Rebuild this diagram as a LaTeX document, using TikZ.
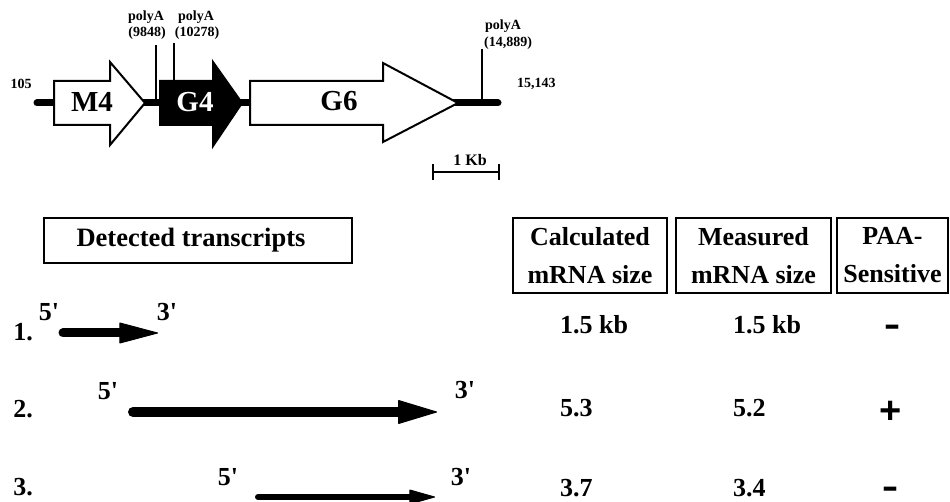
\documentclass[tikz,border=0pt]{standalone}
\usepackage{fontspec}
\usepackage{graphicx}
\setmainfont{Liberation Serif}
\newfontfamily\sansfam{Liberation Sans}
\usetikzlibrary{arrows.meta}
\tikzset{
  small/.style={font=\fontsize{14}{16}\selectfont\bfseries, inner sep=0pt},
  big/.style={font=\fontsize{26}{30}\selectfont\bfseries, inner sep=0pt},
  genelbl/.style={font=\fontsize{29}{30}\selectfont\bfseries, inner sep=0pt},
  hdr/.style={draw, line width=1.6pt, font=\fontsize{26}{38}\selectfont\bfseries, align=center, inner sep=0pt},
  gene/.style={draw, line width=2pt, line join=miter},
  backbone/.style={line width=7pt, line cap=round},
  tick/.style={line width=2.5pt},
  trA/.style={line width=9pt, line cap=round, -{Triangle[length=40pt, width=21pt, line width=1pt, round]}},
  trB/.style={line width=10pt, line cap=round, -{Triangle[length=40pt, width=24pt, line width=1pt, round]}},
  trC/.style={line width=6pt, line cap=round, -{Triangle[length=27pt, width=15pt, line width=1pt, round]}},
  plus/.style={font=\sansfam\fontsize{38}{38}\selectfont\bfseries, inner sep=0pt},
  minus/.style={font=\fontsize{26}{26}\selectfont\bfseries, inner sep=0pt, anchor=base}
}
\begin{document}
\begin{tikzpicture}[x=1pt,y=-1pt]
\useasboundingbox (0,0) rectangle (950,502);
\fill[white] (0,0) rectangle (950,502);

% ---------- gene map ----------
\coordinate (bbL) at (37,103);
\coordinate (bbR) at (498,103);
\draw[backbone] (bbL) -- (bbR);

% M4 (open arrow)
\draw[gene, fill=white] (54,81) -- (110,81) -- (110,62) -- (145,103) -- (110,145) -- (110,125) -- (54,125) -- cycle;
% G4 (filled arrow)
\draw[gene, fill=black] (160,81) -- (213,81) -- (213,62) -- (242,103) -- (213,146) -- (213,125) -- (160,125) -- cycle;
% G6 (open arrow)
\draw[gene, fill=white] (250,81) -- (383,81) -- (383,63) -- (458,103) -- (383,142) -- (383,125) -- (250,125) -- cycle;

\node[genelbl] (m4) at (92,102) {M4};
\node[genelbl, text=white] (g4) at (195,102) {G4};
\node[genelbl] (g6) at (339,101) {G6};

% polyA sites
\coordinate (p1t) at (156,45);  \coordinate (p1b) at (156,102);
\coordinate (p2t) at (174,43);  \coordinate (p2b) at (174,82);
\coordinate (p3t) at (482,49);  \coordinate (p3b) at (482,103);
\draw[tick] (p1t) -- (p1b);
\draw[tick] (p2t) -- (p2b);
\draw[tick] (p3t) -- (p3b);

\node[small] (pa1) at (146,17) {polyA};
\node[small] (pa1n) at (147,33) {(9848)};
\node[small] (pa2) at (196,17) {polyA};
\node[small] (pa2n) at (197,33) {(10278)};
\node[small, anchor=west] (pa3) at (485,26) {polyA};
\node[small, anchor=west] (pa3n) at (484,43) {(14,889)};

\node[small] (start) at (21,84) {105};
\node[small, anchor=west] (end) at (517,84) {15,143};

% scale bar
\coordinate (sbL) at (433,172);
\coordinate (sbR) at (499,172);
\draw[line width=2pt] (sbL) -- (sbR);
\draw[line width=2pt] ([yshift=-8pt]sbL) -- ([yshift=8pt]sbL);
\draw[line width=2pt] ([yshift=-8pt]sbR) -- ([yshift=8pt]sbR);
\node[small, font=\fontsize{16}{18}\selectfont\bfseries] (kb) at (470,160) {1 Kb};

% ---------- table headers ----------
\node[hdr, minimum width=308pt, minimum height=45pt] (detbox) at (198,240.5) {};
\node[big, font=\fontsize{26.5}{30}\selectfont\bfseries] (det) at (191,240) {Detected transcripts};
\node[hdr, minimum width=154pt, minimum height=75pt] (calc) at (590,255.5) {Calculated\\mRNA size};
\node[hdr, minimum width=155pt, minimum height=75pt] (meas) at (753.5,255.5) {Measured\\mRNA size};
\node[hdr, minimum width=111pt, minimum height=75pt] (paa) at (892.5,255.5) {PAA-\\Sensitive};

% ---------- transcripts ----------
% row 1
\node[big] (n1) at (23,332) {1.};
\node[big] (f1) at (49,312) {5\textquotesingle};
\node[big] (e1) at (167,312) {3\textquotesingle};
\coordinate (t1s) at (63,333);
\coordinate (t1e) at (158,333);
\draw[trA] (t1s) -- (t1e);
\node[big, anchor=west] (c1) at (560,325) {1.5 kb};
\node[big, anchor=west] (m1) at (733,325) {1.5 kb};
\node[minus] (s1) at (892,338.5) {\scalebox{1.85}{-}};

% row 2
\node[big] (n2) at (23,409) {2.};
\node[big] (f2) at (108,391) {5\textquotesingle};
\node[big] (e2) at (465,390) {3\textquotesingle};
\coordinate (t2s) at (133,412);
\coordinate (t2e) at (437,412);
\draw[trB] (t2s) -- (t2e);
\node[big, anchor=west] (c2) at (560,408) {5.3};
\node[big, anchor=west] (m2) at (733,408) {5.2};
\node[plus] (s2) at (891,412) {+};

% row 3
\node[big] (n3) at (23,487) {3.};
\node[big] (f3) at (228,477) {5\textquotesingle};
\node[big] (e3) at (461,477) {3\textquotesingle};
\coordinate (t3s) at (258,497);
\coordinate (t3e) at (435,497);
\draw[trC] (t3s) -- (t3e);
\node[big, anchor=west] (c3) at (560,488) {3.7};
\node[big, anchor=west] (m3) at (733,488) {3.4};
\node[minus] (s3) at (890,500.5) {\scalebox{1.85}{-}};
\end{tikzpicture}
\end{document}
